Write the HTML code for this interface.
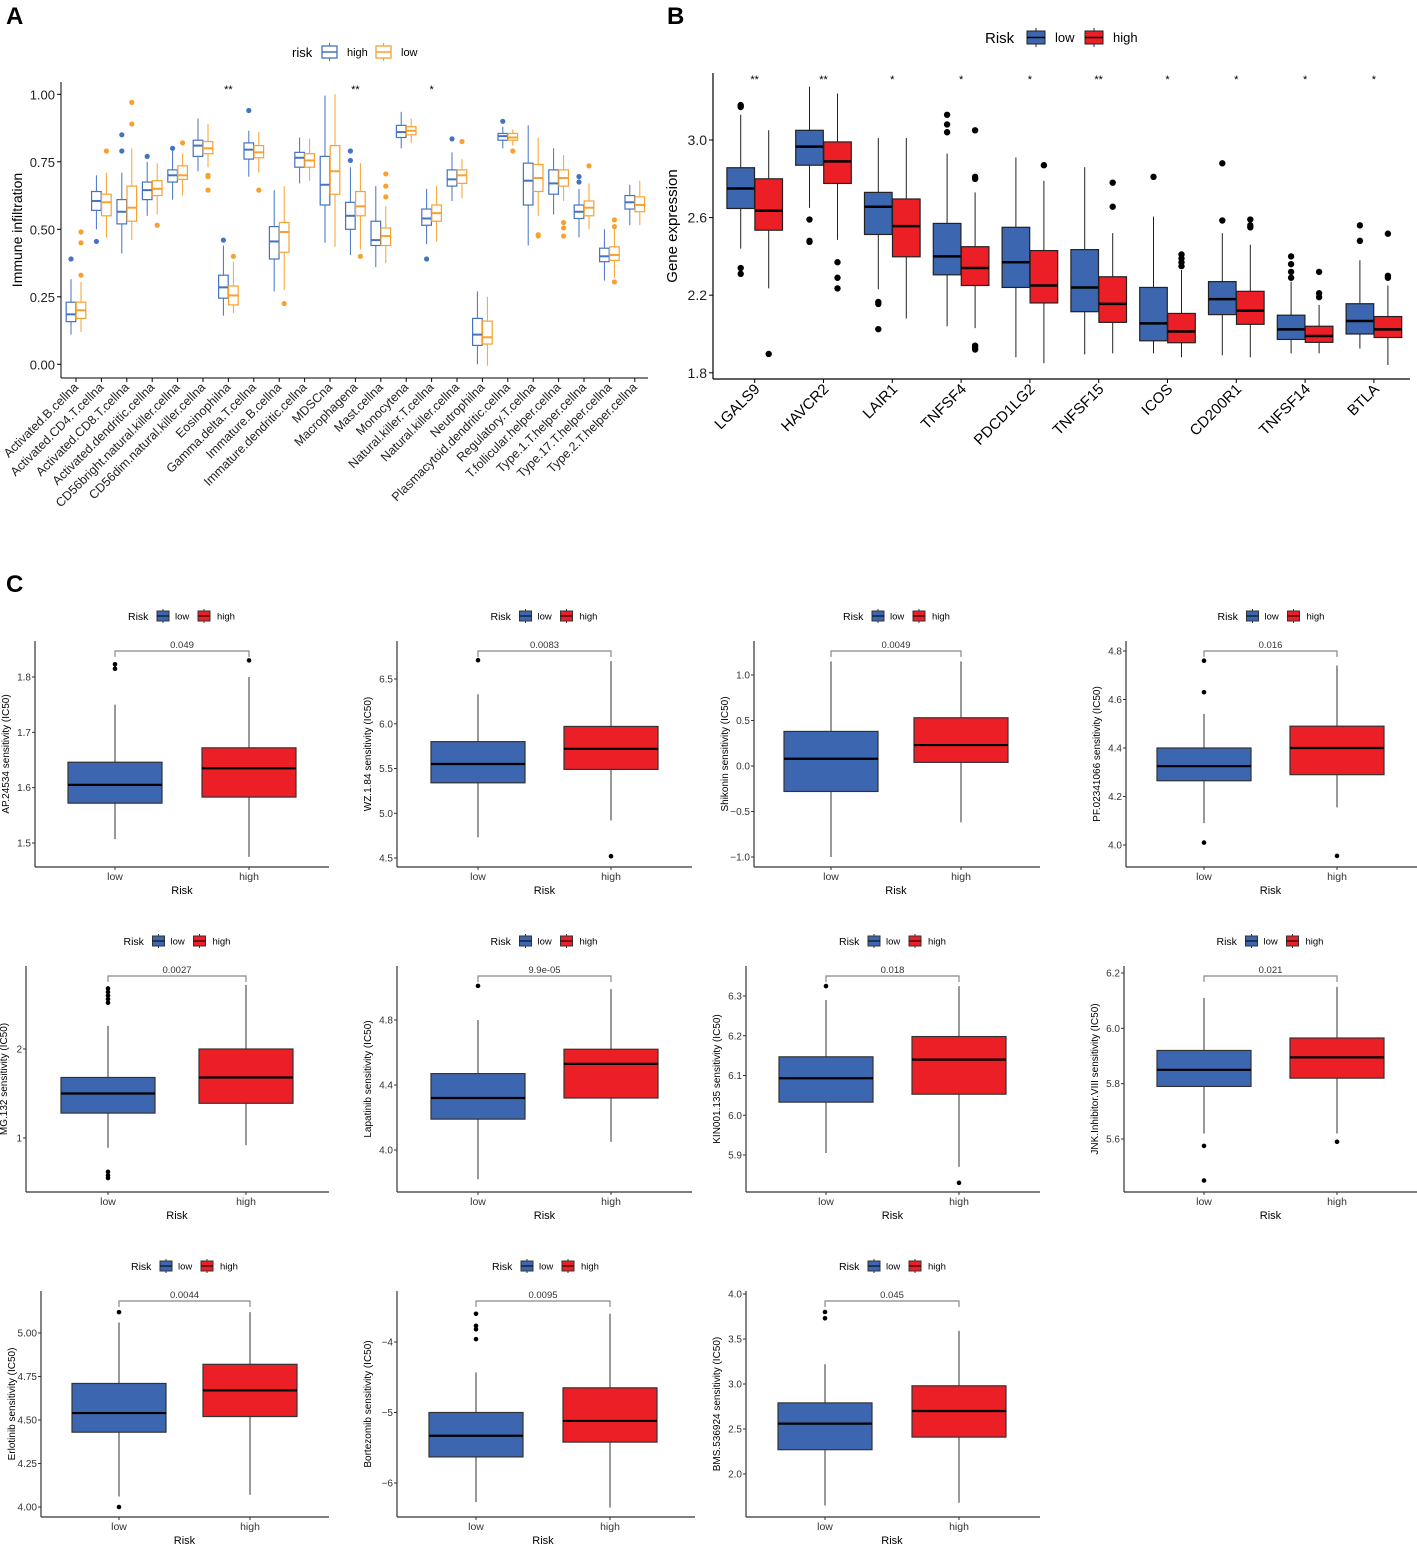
<!DOCTYPE html>
<html><head><meta charset="utf-8"><style>
body{margin:0;background:#fff}
svg{display:block;font-family:"Liberation Sans",Arial,sans-serif}
</style></head><body>
<svg id="fig" width="1417" height="1544" viewBox="0 0 1417 1544" xmlns="http://www.w3.org/2000/svg">
<rect width="1417" height="1544" fill="#fff"/>
<text x="6" y="24" font-size="24" font-weight="bold">A</text>
<text x="667" y="24" font-size="24" font-weight="bold">B</text>
<text x="6" y="592" font-size="24" font-weight="bold">C</text>
</svg>
<script>
// ---------- Panel A data ----------
const aCats=["Activated.B.cellna","Activated.CD4.T.cellna","Activated.CD8.T.cellna","Activated.dendritic.cellna","CD56bright.natural.killer.cellna","CD56dim.natural.killer.cellna","Eosinophilna","Gamma.delta.T.cellna","Immature.B.cellna","Immature.dendritic.cellna","MDSCna","Macrophagena","Mast.cellna","Monocytena","Natural.killer.T.cellna","Natural.killer.cellna","Neutrophilna","Plasmacytoid.dendritic.cellna","Regulatory.T.cellna","T.follicular.helper.cellna","Type.1.T.helper.cellna","Type.17.T.helper.cellna","Type.2.T.helper.cellna"];
const aHigh=[[.11,.158,.185,.23,.315],[.50,.57,.605,.64,.70],[.41,.52,.565,.61,.71],[.55,.61,.645,.675,.75],[.61,.675,.70,.72,.79],[.715,.77,.81,.83,.91],[.18,.245,.285,.33,.44],[.695,.76,.795,.82,.865],[.27,.39,.455,.51,.645],[.67,.73,.765,.785,.84],[.45,.59,.665,.77,.995],[.405,.50,.55,.60,.73],[.36,.44,.46,.53,.66],[.80,.84,.86,.885,.935],[.445,.515,.54,.575,.65],[.605,.66,.685,.72,.785],[0,.07,.11,.17,.27],[.80,.83,.845,.855,.88],[.44,.59,.68,.745,.885],[.555,.63,.67,.72,.80],[.47,.54,.565,.59,.65],[.31,.38,.40,.43,.50],[.515,.575,.60,.625,.665]];
const aHighOut=[[.39],[.455],[.79,.85],[.77],[.80],[],[.46],[.94],[],[],[],[.755,.79],[],[],[.39],[.835],[],[.90],[],[],[.675,.695],[],[]];
const aLow=[[.12,.17,.20,.23,.305],[.47,.55,.60,.63,.71],[.46,.53,.58,.66,.80],[.555,.625,.65,.68,.745],[.625,.685,.70,.735,.78],[.73,.78,.80,.825,.89],[.19,.22,.255,.29,.38],[.71,.765,.785,.81,.86],[.275,.415,.49,.525,.66],[.68,.73,.755,.78,.835],[.435,.63,.715,.81,1.0],[.425,.55,.585,.64,.745],[.375,.44,.475,.505,.585],[.82,.85,.865,.88,.91],[.455,.53,.56,.59,.66],[.615,.67,.70,.72,.76],[-.005,.075,.10,.16,.25],[.81,.83,.84,.855,.87],[.55,.64,.69,.74,.84],[.605,.66,.69,.72,.775],[.50,.55,.58,.605,.67],[.32,.385,.405,.435,.51],[.515,.565,.59,.62,.68]];
const aLowOut=[[.33,.45,.49],[.79],[.89,.97],[.515],[.82],[.70,.695,.645],[.40],[.645],[.225],[],[],[.40],[.62,.66,.705],[],[],[.825],[],[.79],[.48,.475],[.525,.505,.475],[.735],[.305,.51,.535],[]];
const aSig=["","","","","","","**","","","","","**","","","*","","","","","","","",""];
const aTicks=[0,0.25,0.5,0.75,1.0];
const aTickLabels=["0.00","0.25","0.50","0.75","1.00"];
// ---------- Panel B data ----------
const bGenes=["LGALS9","HAVCR2","LAIR1","TNFSF4","PDCD1LG2","TNFSF15","ICOS","CD200R1","TNFSF14","BTLA"];
const bLow=[[2.44,2.647,2.75,2.857,3.13],[2.65,2.87,2.966,3.05,3.275],[2.23,2.513,2.656,2.73,3.01],[2.04,2.305,2.40,2.57,2.93],[1.88,2.24,2.37,2.55,2.91],[1.895,2.115,2.24,2.435,2.86],[1.90,1.965,2.055,2.24,2.605],[1.89,2.10,2.18,2.27,2.52],[1.90,1.972,2.024,2.097,2.27],[1.925,2.0,2.067,2.156,2.38]];
const bLowOut=[[3.18,3.17,2.34,2.31],[2.59,2.48,2.475],[2.165,2.155,2.025],[3.13,3.08,3.04],[],[],[2.81],[2.585,2.88],[2.40,2.36,2.32,2.29],[2.56,2.48]];
const bHigh=[[2.235,2.535,2.635,2.80,3.05],[2.485,2.776,2.89,2.99,3.24],[2.08,2.398,2.556,2.696,3.01],[2.03,2.25,2.34,2.45,2.73],[1.85,2.16,2.25,2.43,2.79],[1.90,2.06,2.155,2.295,2.52],[1.88,1.955,2.013,2.106,2.33],[1.88,2.05,2.12,2.22,2.46],[1.90,1.957,1.99,2.04,2.15],[1.84,1.982,2.024,2.09,2.25]];
const bHighOut=[[1.897],[2.37,2.29,2.235],[],[3.05,2.81,2.80,1.94,1.93,1.92],[2.87],[2.78,2.656],[2.41,2.39,2.37,2.35],[2.59,2.56,2.55],[2.32,2.21,2.19],[2.517,2.30,2.29]];
const bSig=["**","**","*","*","*","**","*","*","*","*"];
const bTicks=[1.8,2.2,2.6,3.0];
const bTickLabels=["1.8","2.2","2.6","3.0"];
// ---------- Panel C data ----------
const cNames=["AP.24534","WZ.1.84","Shikonin","PF.02341066","MG.132","Lapatinib","KIN001.135","JNK.Inhibitor.VIII","Erlotinib","Bortezomib","BMS.536924"];
const cP=["0.049","0.0083","0.0049","0.016","0.0027","9.9e-05","0.018","0.021","0.0044","0.0095","0.045"];
const cLow=[[1.507,1.572,1.605,1.646,1.75],[4.73,5.34,5.55,5.80,6.33],[-1.0,-0.28,0.08,0.38,1.15],[4.09,4.265,4.325,4.40,4.54],[0.89,1.28,1.50,1.68,2.26],[3.82,4.19,4.32,4.47,4.80],[5.905,6.033,6.093,6.147,6.29],[5.62,5.79,5.85,5.92,6.11],[4.06,4.43,4.54,4.71,5.06],[-6.27,-5.63,-5.33,-5.0,-4.43],[1.65,2.27,2.56,2.79,3.22]];
const cLowOut=[[1.815,1.823],[6.71],[],[4.63,4.76,4.01],[2.52,2.56,2.60,2.64,2.68,0.62,0.58,0.55],[5.01],[6.325],[5.575,5.45],[5.12,4.0],[-3.6,-3.77,-3.82,-3.96],[3.73,3.80]];
const cHigh=[[1.475,1.583,1.635,1.672,1.80],[4.92,5.49,5.72,5.97,6.70],[-0.62,0.04,0.23,0.53,1.15],[4.155,4.29,4.40,4.49,4.74],[0.92,1.39,1.68,2.00,2.72],[4.05,4.32,4.53,4.62,4.99],[5.87,6.053,6.14,6.198,6.325],[5.62,5.82,5.895,5.965,6.15],[4.07,4.52,4.67,4.82,5.12],[-6.35,-5.42,-5.12,-4.65,-3.6],[1.68,2.41,2.70,2.98,3.59]];
const cHighOut=[[1.83],[4.52],[],[3.955],[],[],[5.83],[5.59],[],[],[]];
const cTicks=[[1.5,1.6,1.7,1.8],[4.5,5.0,5.5,6.0,6.5],[-1.0,-0.5,0,0.5,1.0],[4.0,4.2,4.4,4.6,4.8],[1,2],[4.0,4.4,4.8],[5.9,6.0,6.1,6.2,6.3],[5.6,5.8,6.0,6.2],[4.0,4.25,4.5,4.75,5.0],[-6,-5,-4],[2.0,2.5,3.0,3.5,4.0]];
const cTickLabels=[["1.5","1.6","1.7","1.8"],["4.5","5.0","5.5","6.0","6.5"],["\u22121.0","\u22120.5","0.0","0.5","1.0"],["4.0","4.2","4.4","4.6","4.8"],["1","2"],["4.0","4.4","4.8"],["5.9","6.0","6.1","6.2","6.3"],["5.6","5.8","6.0","6.2"],["4.00","4.25","4.50","4.75","5.00"],["\u22126","\u22125","\u22124"],["2.0","2.5","3.0","3.5","4.0"]];
// layout (pixels): axisX, rightX, row, lowX, highX, firstTickPx, lastTickPx
const cLayout=[[35,329,0,115,249,843,677],[397,692,0,478,611,858,679],[754,1040,0,831,961,857,675],[1126,1417,0,1204,1337,845,651],[26,329,1,108,246,1138,1049],[397,692,1,478,611,1150,1020],[746,1040,1,826,959,1155,996],[1124,1417,1,1204,1337,1139,973],[41,329,2,119,250,1507,1333],[397,695,2,476,610,1483,1342],[746,1040,2,825,959,1474,1294]];

const NS="http://www.w3.org/2000/svg";
const svg=document.getElementById('fig');
function mk(tag,attrs,parent,txt){const e=document.createElementNS(NS,tag);for(const k in attrs)e.setAttribute(k,attrs[k]);if(txt!==undefined)e.textContent=txt;(parent||svg).appendChild(e);return e;}
const BLUE="#3C67B0",RED="#EC1F27",ABLUE="#4472C4",AORANGE="#F7A12E";

function drawBox(g,cx,hw,st,ys,fill,stroke,medStroke,medW,outs,r,outFill){
  const w=mk('line',{x1:cx,x2:cx,y1:ys(st[0]),y2:ys(st[4]),stroke:stroke,'stroke-width':1},g);
  
  
  const b=mk('rect',{x:cx-hw,y:ys(st[3]),width:2*hw,height:ys(st[1])-ys(st[3]),fill:fill,stroke:stroke,'stroke-width':1.2},g);
  
  
  const m=mk('line',{x1:cx-hw,x2:cx+hw,y1:ys(st[2]),y2:ys(st[2]),stroke:medStroke,'stroke-width':medW},g);
  
  
  outs.forEach(v=>{const c=mk('circle',{cx:cx,cy:ys(v),r:r,fill:outFill},g);
    
    });
}

// ---------- Panel A ----------
(function(){
  const g=mk('g',{});
  
  
  const ys=v=>364.3-v*270, x0=76, dx=25.4;
  mk('line',{x1:61,x2:61,y1:82,y2:378,stroke:'#000','stroke-width':1},g);
  mk('line',{x1:61,x2:648,y1:378,y2:378,stroke:'#000','stroke-width':1},g);
  aTicks.forEach((t,i)=>{const y=ys(t);mk('line',{x1:57,x2:61,y1:y,y2:y,stroke:'#000'},g);
    const tl=mk('text',{x:55,y:y+5,'text-anchor':'end','font-size':13,fill:'#222'},g,aTickLabels[i]);
    
    });
  const yt=mk('text',{x:0,y:0,transform:'translate(22,230) rotate(-90)','text-anchor':'middle','font-size':14},g,'Immune infiltration');
  
  
  aCats.forEach((c,i)=>{const x=x0+i*dx;
    mk('line',{x1:x,x2:x,y1:378,y2:382,stroke:'#000'},g);
    const lb=mk('text',{x:0,y:0,transform:`translate(${x+3},388) rotate(-45)`,'text-anchor':'end','font-size':12.5,fill:'#222'},g,c);
    
    
    drawBox(g,x-5,4.8,aHigh[i],ys,'#fff',ABLUE,ABLUE,2,aHighOut[i],2.6,ABLUE);
    drawBox(g,x+5,4.8,aLow[i],ys,'#fff',AORANGE,AORANGE,2,aLowOut[i],2.6,AORANGE);
    if(aSig[i]){const s=mk('text',{x:x,y:93,'text-anchor':'middle','font-size':11},g,aSig[i]);
      
      }
  });
  const lg=mk('g',{},g);
  
  
  mk('text',{x:292,y:57,'font-size':13},lg,'risk');
  [[322,ABLUE,'high',347],[376,AORANGE,'low',401]].forEach(a=>{
    const k=mk('g',{},lg);
    
    
    mk('line',{x1:a[0]+7.5,x2:a[0]+7.5,y1:43,y2:61,stroke:a[1]},k);
    mk('rect',{x:a[0],y:46,width:15,height:12,fill:'#fff',stroke:a[1],'stroke-width':1.3},k);
    mk('line',{x1:a[0],x2:a[0]+15,y1:52,y2:52,stroke:a[1],'stroke-width':1.5},k);
    mk('text',{x:a[3],y:56,'font-size':11},k,a[2]);
  });
})();

// ---------- Panel B ----------
(function(){
  const g=mk('g',{});
  
  
  const ys=v=>140+(3.0-v)*194, x0=754.7, dx=68.8;
  mk('line',{x1:713,x2:713,y1:73,y2:379,stroke:'#000','stroke-width':1.2},g);
  mk('line',{x1:713,x2:1410,y1:379,y2:379,stroke:'#000','stroke-width':1.2},g);
  bTicks.forEach((t,i)=>{const y=ys(t);mk('line',{x1:709,x2:713,y1:y,y2:y,stroke:'#000'},g);
    const tl=mk('text',{x:707,y:y+5,'text-anchor':'end','font-size':14,fill:'#222'},g,bTickLabels[i]);
    
    });
  const yt=mk('text',{x:0,y:0,transform:'translate(677,226) rotate(-90)','text-anchor':'middle','font-size':15},g,'Gene expression');
  
  
  bGenes.forEach((c,i)=>{const x=x0+i*dx;
    mk('line',{x1:x,x2:x,y1:379,y2:383,stroke:'#000'},g);
    const lb=mk('text',{x:0,y:0,transform:`translate(${x+6},390) rotate(-45)`,'text-anchor':'end','font-size':15},g,c);
    
    
    drawBox(g,x-14,13.8,bLow[i],ys,BLUE,'#222','#000',2.5,bLowOut[i],3.2,'#000');
    drawBox(g,x+14,13.8,bHigh[i],ys,RED,'#222','#000',2.5,bHighOut[i],3.2,'#000');
    const s=mk('text',{x:x,y:83,'text-anchor':'middle','font-size':11},g,bSig[i]);
    
    
  });
  const lg=mk('g',{},g);
  
  
  mk('text',{x:985,y:43,'font-size':15},lg,'Risk');
  [[1027,BLUE,'low',1055],[1085,RED,'high',1113]].forEach(a=>{
    const k=mk('g',{},lg);
    
    
    mk('line',{x1:a[0]+9,x2:a[0]+9,y1:28,y2:47,stroke:'#222'},k);
    mk('rect',{x:a[0],y:31,width:18,height:13,fill:a[1],stroke:'#222'},k);
    mk('line',{x1:a[0],x2:a[0]+18,y1:37.5,y2:37.5,stroke:'#000','stroke-width':1.5},k);
    mk('text',{x:a[3],y:42,'font-size':13},k,a[2]);
  });
})();

// ---------- Panel C ----------
cNames.forEach((name,i)=>{
  const L=cLayout[i];const ax=L[0],rx=L[1],row=L[2],lx=L[3],hx=L[4];
  const top=641+row*325, bot=867+row*325, leg=616+row*325;
  const tk=cTicks[i], t0=tk[0], t1=tk[tk.length-1];
  const ys=v=>L[5]+(v-t0)*(L[6]-L[5])/(t1-t0);
  const g=mk('g',{});
  
  
  mk('line',{x1:ax,x2:ax,y1:top,y2:bot,stroke:'#333','stroke-width':1.2},g);
  mk('line',{x1:ax,x2:rx,y1:bot,y2:bot,stroke:'#333','stroke-width':1.2},g);
  tk.forEach((t,j)=>{const y=ys(t);mk('line',{x1:ax-3,x2:ax,y1:y,y2:y,stroke:'#333'},g);
    const tl=mk('text',{x:ax-4,y:y+3.5,'text-anchor':'end','font-size':10,fill:'#333'},g,cTickLabels[i][j]);
    
    });
  const tx=Math.max(ax-26,7);
  const yt=mk('text',{x:0,y:0,transform:`translate(${tx},${(top+bot)/2}) rotate(-90)`,'text-anchor':'middle','font-size':10},g,name+' sensitivity (IC50)');
  
  
  [[lx,'low'],[hx,'high']].forEach(a=>{mk('line',{x1:a[0],x2:a[0],y1:bot,y2:bot+3,stroke:'#333'},g);
    const t=mk('text',{x:a[0],y:bot+13,'text-anchor':'middle','font-size':10.5,fill:'#333'},g,a[1]);
    
    });
  const xt=mk('text',{x:(lx+hx)/2,y:bot+27,'text-anchor':'middle','font-size':11},g,'Risk');
  
  
  const hw=47;
  drawBox(g,lx,hw,cLow[i],ys,BLUE,'#333','#000',2.2,cLowOut[i],2.3,'#000');
  drawBox(g,hx,hw,cHigh[i],ys,RED,'#333','#000',2.2,cHighOut[i],2.3,'#000');
  const br=mk('polyline',{points:`${lx},${top+16} ${lx},${top+10} ${hx},${top+10} ${hx},${top+16}`,fill:'none',stroke:'#888','stroke-width':1.2},g);
  
  
  const pt=mk('text',{x:(lx+hx)/2,y:top+7,'text-anchor':'middle','font-size':9.5,fill:'#333'},g,cP[i]);
  
  
  const cx=(ax+rx)/2;
  const lg=mk('g',{},g);
  
  
  mk('text',{x:cx-54,y:leg+4,'font-size':10.5},lg,'Risk');
  [[cx-25,BLUE,'low',cx-7],[cx+16,RED,'high',cx+35]].forEach(a=>{
    const k=mk('g',{},lg);
    
    
    mk('line',{x1:a[0]+6,x2:a[0]+6,y1:leg-7,y2:leg+7,stroke:'#333'},k);
    mk('rect',{x:a[0],y:leg-5,width:12,height:10,fill:a[1],stroke:'#333'},k);
    mk('line',{x1:a[0],x2:a[0]+12,y1:leg,y2:leg,stroke:'#000'},k);
    mk('text',{x:a[3],y:leg+3.5,'font-size':9.5},k,a[2]);
  });
});
</script>
</body></html>
